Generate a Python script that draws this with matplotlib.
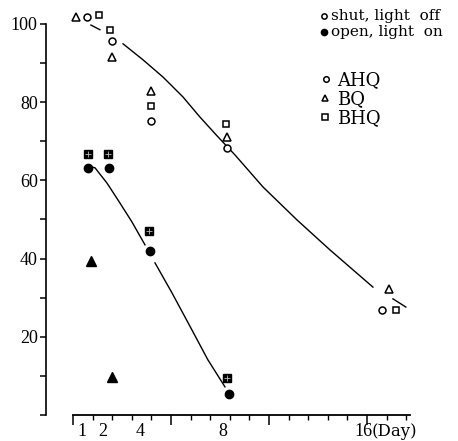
import numpy as np
import matplotlib.pyplot as plt
from matplotlib.lines import Line2D

# shut, light off (open markers) -- x in days, y in %
ahq_off_x = [1.71, 2.98, 4.97, 8.85, 16.76]
ahq_off_y = [101.8, 95.7, 75.2, 68.3, 26.9]
bq_off_x = [1.15, 2.98, 4.97, 8.85, 17.12]
bq_off_y = [101.8, 91.6, 82.9, 71.1, 32.2]
bhq_off_x = [2.32, 2.88, 4.97, 8.80, 17.47]
bhq_off_y = [102.3, 98.5, 79.0, 74.4, 26.9]

# open, light on (filled markers)
ahq_on_x = [1.76, 2.83, 4.92, 8.95]
ahq_on_y = [63.2, 63.2, 41.9, 5.4]
bq_on_x = [1.91, 2.98]
bq_on_y = [39.4, 9.7]
bhq_on_x = [1.76, 2.78, 4.87, 8.85]
bhq_on_y = [66.8, 66.8, 47.1, 9.5]

# hand drawn curves (nan = break in the line)
curve_off_x = [1.91, 2.37, np.nan, 3.55, 4.57, 5.59, 6.61, 7.47, 8.34, 9.26, 10.69,
               12.42, 14.11, 16.30, np.nan, 17.32, 17.98]
curve_off_y = [99.7, 98.5, np.nan, 94.9, 90.8, 86.4, 81.3, 76.2, 71.4, 66.5, 58.3,
               49.9, 42.2, 32.7, np.nan, 29.7, 27.6]
curve_on_x = [1.96, 2.12, 2.73, 3.29, 4.00, 4.67, np.nan, 5.18, 6.05, 7.07, 7.88, 8.75]
curve_on_y = [63.4, 63.2, 59.3, 55.0, 49.4, 43.5, np.nan, 38.9, 31.2, 21.7, 14.1, 7.2]

day_labels = ["1", "2", "4", "8", "16"]
day_label_pos = [1.45, 2.53, 4.41, 8.65, 15.84]

W, H = 458, 441
fig = plt.figure(figsize=(W / 100, H / 100), dpi=100)
ax = fig.add_axes([46 / W, 26 / H, (W - 46) / W, 415 / H])
ax.set_xlim(-0.38, 20.64)
ax.set_ylim(0, 106.1)

ax.plot(curve_off_x, curve_off_y, color="black", lw=1.0, zorder=2)
ax.plot(curve_on_x, curve_on_y, color="black", lw=1.0, zorder=2)

op = dict(ls="none", mfc="white", mec="black", mew=1.1, clip_on=False, zorder=3)
ax.plot(ahq_off_x, ahq_off_y, marker="o", ms=5, **op)
ax.plot(bq_off_x, bq_off_y, marker="^", ms=6, **op)
ax.plot(bhq_off_x, bhq_off_y, marker="s", ms=4.5, **op)

fl = dict(ls="none", color="black", clip_on=False, zorder=3)
ax.plot(ahq_on_x, ahq_on_y, marker="o", ms=6, **fl)
ax.plot(bq_on_x, bq_on_y, marker="^", ms=7, **fl)
ax.plot(bhq_on_x, bhq_on_y, marker="s", ms=5.5, **fl)
ax.plot(bhq_on_x, bhq_on_y, ls="none", marker="+", ms=4, mew=0.6, color="#bbbbbb", zorder=4)

for s in ["top", "right"]:
    ax.spines[s].set_visible(False)
ax.spines["left"].set_bounds(0, 100)
ax.spines["bottom"].set_bounds(1, 18.2)
ax.spines["left"].set_linewidth(1.2)
ax.spines["bottom"].set_linewidth(1.3)

ax.set_yticks(np.arange(0, 101, 20))
ax.set_yticklabels(["", "20", "40", "60", "80", "100"], family="Liberation Serif", fontsize=13)
ax.set_yticks(np.arange(10, 100, 20), minor=True)
ax.tick_params(axis="y", which="both", direction="out", length=4, width=1.1, pad=2)

ax.set_xticks([1, 6, 11, 16])
ax.set_xticklabels([])
ax.set_xticks([d for d in range(2, 19) if d not in (6, 11, 16)], minor=True)
ax.tick_params(axis="x", which="major", direction="out", length=7, width=1.1)
ax.tick_params(axis="x", which="minor", direction="out", length=3.5, width=1.0)

sec = ax.secondary_xaxis("bottom")
sec.spines["bottom"].set_visible(False)
sec.set_xticks(day_label_pos)
sec.set_xticklabels(day_labels, family="Liberation Serif", fontsize=13)
sec.tick_params(length=0, pad=6)

fig.text(372 / W, 1 - 436 / H, "(Day)", family="DejaVu Serif", fontsize=12, va="baseline")

# legend
def mark(px, py, **kw):
    fig.add_artist(Line2D([px / W], [1 - py / H], transform=fig.transFigure, ls="none", **kw))

mark(324, 16, marker="o", ms=3.8, mfc="white", mec="black", mew=1.1)
mark(324, 32, marker="o", ms=4.5, color="black")
fig.text(331 / W, 1 - 20 / H, "shut, light  off", family="DejaVu Serif", fontsize=11, va="baseline")
fig.text(331 / W, 1 - 36 / H, "open, light  on", family="DejaVu Serif", fontsize=11, va="baseline")

mark(326, 79, marker="o", ms=4, mfc="white", mec="black", mew=1.1)
mark(325, 98, marker="^", ms=4.5, mfc="white", mec="black", mew=1.1)
mark(325, 117, marker="s", ms=3.8, mfc="white", mec="black", mew=1.1)
fig.text(337 / W, 1 - 85 / H, "AHQ", family="DejaVu Serif", fontsize=13, va="baseline")
fig.text(337 / W, 1 - 104 / H, "BQ", family="DejaVu Serif", fontsize=13, va="baseline")
fig.text(337 / W, 1 - 123 / H, "BHQ", family="DejaVu Serif", fontsize=13, va="baseline")

fig.savefig("out.png", dpi=100)
plt.close(fig)
